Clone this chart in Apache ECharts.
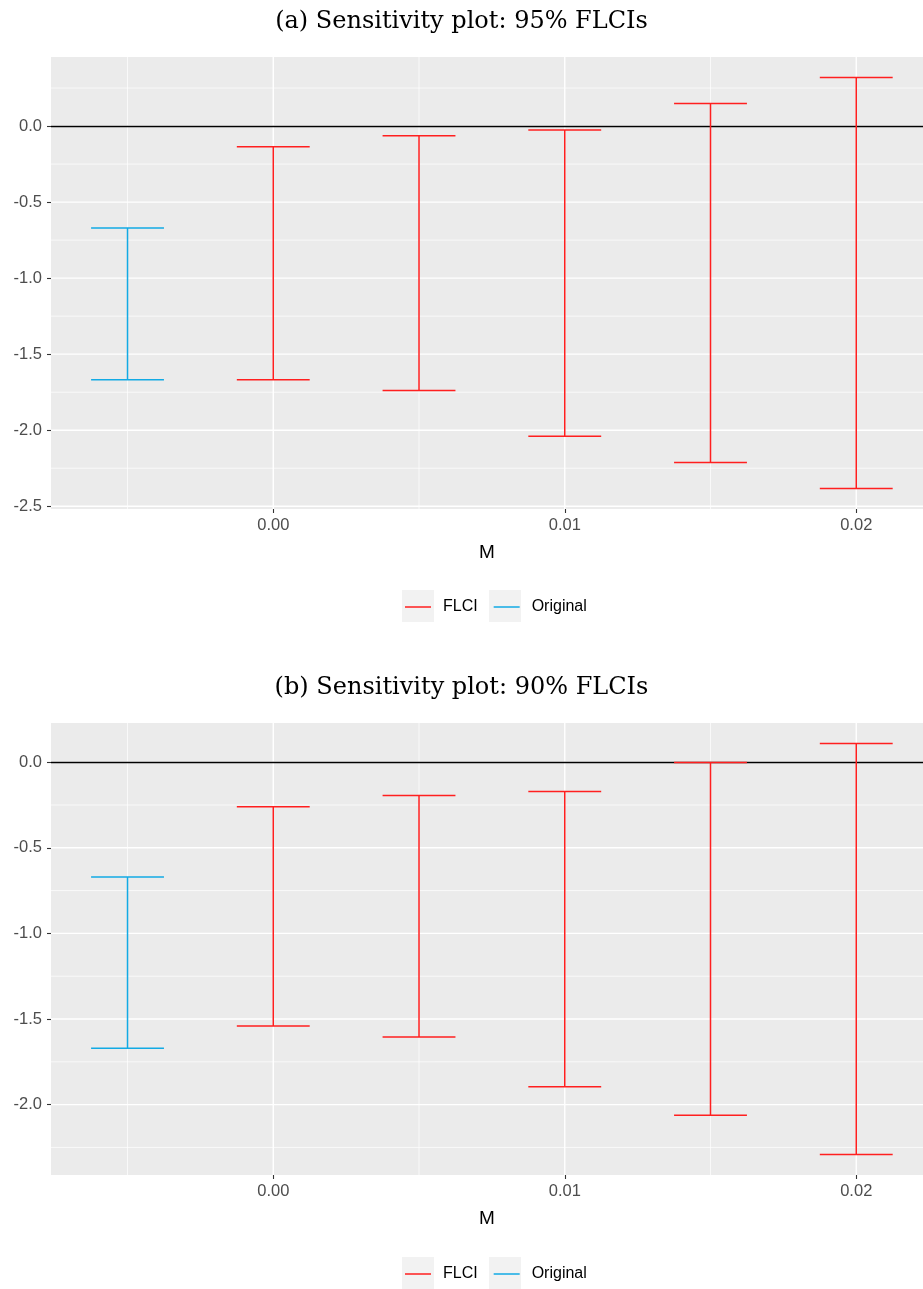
<!DOCTYPE html>
<html>
<head>
<meta charset="utf-8">
<script src="https://cdn.jsdelivr.net/npm/echarts@6/dist/echarts.min.js"></script>
<style>
html,body{margin:0;padding:0;background:#fff;}
#chart{width:923px;height:1289px;}
</style>
</head>
<body>
<div id="chart"></div>
<script>
// ---- data ----
const titles = ['(a) Sensitivity plot: 95% FLCIs', '(b) Sensitivity plot: 90% FLCIs'];
const seriesNames = ['FLCI', 'Original'];
const mValues = [0, 0.005, 0.01, 0.015, 0.02];
const originalPos = -0.005;
const xTickValues = [0, 0.01, 0.02];
const xTickLabels = ['0.00', '0.01', '0.02'];
const yTickLabelsA = ['-2.5', '-2.0', '-1.5', '-1.0', '-0.5', '0.0'];
const yTickLabelsB = ['-2.0', '-1.5', '-1.0', '-0.5', '0.0'];

// panel (a): 95% FLCIs
const flciLowerA = [-1.668, -1.739, -2.039, -2.212, -2.383];
const flciUpperA = [-0.136, -0.064, -0.026, 0.148, 0.319];
const originalLowerA = -1.668;
const originalUpperA = -0.670;

// panel (b): 90% FLCIs
const flciLowerB = [-1.541, -1.605, -1.895, -2.062, -2.291];
const flciUpperB = [-0.260, -0.194, -0.171, -0.002, 0.109];
const originalLowerB = -1.671;
const originalUpperB = -0.671;

// ---- styling constants ----
const RED = '#FF1F1F';
const BLUE = '#12AAE4';
const CAP = 0.0025;        // error bar cap width (data units)
const X_MIN = -0.007625;
const X_MAX = 0.02229;

function yRange(lows, ups) {
  const lo = Math.min(0, ...lows), hi = Math.max(0, ...ups);
  const pad = (hi - lo) * 0.05;
  return [lo - pad, hi + pad];
}
const rangeA = yRange(flciLowerA.concat([originalLowerA]), flciUpperA.concat([originalUpperA]));
const rangeB = yRange(flciLowerB.concat([originalLowerB]), flciUpperB.concat([originalUpperB]));

function renderErr(params, api) {
  const x = api.value(0), lo = api.value(1), hi = api.value(2);
  const pHi = api.coord([x, hi]);
  const pLo = api.coord([x, lo]);
  const half = api.size([CAP / 2, 0])[0];
  const style = { stroke: api.visual('color'), lineWidth: 1.5, fill: null };
  return {
    type: 'group',
    children: [
      { type: 'line', shape: { x1: pHi[0], y1: pHi[1], x2: pLo[0], y2: pLo[1] }, style: style },
      { type: 'line', shape: { x1: pHi[0] - half, y1: pHi[1], x2: pHi[0] + half, y2: pHi[1] }, style: style },
      { type: 'line', shape: { x1: pLo[0] - half, y1: pLo[1], x2: pLo[0] + half, y2: pLo[1] }, style: style }
    ]
  };
}

const labelFont = { color: '#4D4D4D', fontSize: 16.5, fontFamily: 'Liberation Sans, Arial, sans-serif' };

function makeX(gridIndex) {
  return {
    type: 'value', gridIndex: gridIndex, min: X_MIN, max: X_MAX, position: 'bottom',
    axisLine: { show: false, onZero: false },
    axisTick: { show: true, length: 4, lineStyle: { color: '#333333', width: 1.1 }, customValues: xTickValues },
    axisLabel: Object.assign({ margin: 8, customValues: xTickValues,
      formatter: function (v) { const i = xTickValues.findIndex(t => Math.abs(t - v) < 1e-9); return i >= 0 ? xTickLabels[i] : ''; } }, labelFont),
    splitLine: { show: false },
    name: 'M', nameLocation: 'middle', nameGap: 34,
    nameTextStyle: { color: '#000', fontSize: 19, fontFamily: 'Liberation Sans, Arial, sans-serif' }
  };
}

function makeY(gridIndex, range, labels) {
  const vals = labels.map(Number);
  return {
    type: 'value', gridIndex: gridIndex, min: range[0], max: range[1], position: 'left',
    axisLine: { show: false, onZero: false },
    axisTick: { show: true, length: 4, lineStyle: { color: '#333333', width: 1.1 }, customValues: vals },
    axisLabel: Object.assign({ margin: 9, customValues: vals,
      formatter: function (v) { const i = vals.findIndex(t => Math.abs(t - v) < 1e-9); return i >= 0 ? labels[i] : ''; } }, labelFont),
    splitLine: { show: false }
  };
}

// grid lines drawn via custom series using axis scales
function gridLineSeries(xi, yi, range) {
  const majX = xTickValues, minX = [-0.005, 0.005, 0.015];
  const majY = [], minY = [];
  for (let v = -3; v <= 1.0001; v += 0.25) {
    const r = Math.round(v * 100) / 100;
    if (r < range[0] || r > range[1]) continue;
    if (Math.abs(r * 2 - Math.round(r * 2)) < 1e-9) majY.push(r); else minY.push(r);
  }
  const data = [];
  majX.forEach(v => data.push(['x', v, 1]));
  minX.forEach(v => data.push(['x', v, 0]));
  majY.forEach(v => data.push(['y', v, 1]));
  minY.forEach(v => data.push(['y', v, 0]));
  return {
    type: 'custom', xAxisIndex: xi, yAxisIndex: yi, silent: true, z: 0,
    data: data,
    encode: { x: -1, y: -1 },
    renderItem: function (params, api) {
      const d = data[params.dataIndex];
      const w = d[2] ? 1.4 : 0.7;
      let shape;
      if (d[0] === 'x') {
        const p1 = api.coord([d[1], range[0]]), p2 = api.coord([d[1], range[1]]);
        shape = { x1: p1[0], y1: p1[1], x2: p2[0], y2: p2[1] };
      } else {
        const p1 = api.coord([X_MIN, d[1]]), p2 = api.coord([X_MAX, d[1]]);
        shape = { x1: p1[0], y1: p1[1], x2: p2[0], y2: p2[1] };
      }
      return { type: 'line', shape: shape, style: { stroke: '#FFFFFF', lineWidth: w }, z2: 0 };
    }
  };
}

function panelSeries(xi, yi, lows, ups, oLo, oHi, range) {
  const flciData = mValues.map((m, i) => [m, lows[i], ups[i]]);
  const origData = [[originalPos, oLo, oHi]];
  return [
    gridLineSeries(xi, yi, range),
    {
      name: 'FLCI', type: 'custom', xAxisIndex: xi, yAxisIndex: yi, z: 3,
      itemStyle: { color: RED }, data: flciData, encode: { x: 0, y: [1, 2] },
      renderItem: renderErr,
      markLine: {
        silent: true, symbol: 'none', label: { show: false },
        lineStyle: { color: '#000000', width: 1.3, type: 'solid' },
        data: [{ yAxis: 0 }], z: 2
      }
    },
    {
      name: 'Original', type: 'custom', xAxisIndex: xi, yAxisIndex: yi, z: 3,
      itemStyle: { color: BLUE }, data: origData, encode: { x: 0, y: [1, 2] },
      renderItem: renderErr
    }
  ];
}

const legendIcon = 'path://M0,0L26,0L26,1.5L0,1.5Z';
function makeLegend(top) {
  return {
    left: 405, top: top, orient: 'horizontal', padding: 0,
    itemWidth: 26, itemHeight: 1.5, itemGap: 16,
    data: [{ name: 'FLCI', icon: legendIcon }, { name: 'Original', icon: legendIcon }],
    textStyle: { color: '#000', fontSize: 16, fontFamily: 'Liberation Sans, Arial, sans-serif', padding: [0, 0, 0, 7] },
    selectedMode: false
  };
}

const titleStyle = { color: '#000', fontSize: 24, fontWeight: 'normal', fontFamily: 'DejaVu Serif, Liberation Serif, serif' };

const option = {
  animation: false,
  backgroundColor: '#FFFFFF',
  title: [
    { text: titles[0], left: 'center', top: 5, textStyle: titleStyle },
    { text: titles[1], left: 'center', top: 671, textStyle: titleStyle }
  ],
  grid: [
    { left: 51, top: 57, right: 0, height: 452, backgroundColor: '#EBEBEB', show: true, borderWidth: 0 },
    { left: 51, top: 723, right: 0, height: 452, backgroundColor: '#EBEBEB', show: true, borderWidth: 0 }
  ],
  xAxis: [makeX(0), makeX(1)],
  yAxis: [makeY(0, rangeA, yTickLabelsA), makeY(1, rangeB, yTickLabelsB)],
  legend: [makeLegend(599), makeLegend(1266)],
  graphic: [
    { type: 'rect', shape: { x: 402, y: 590, width: 32, height: 32 }, style: { fill: '#F2F2F2' }, z: -1 },
    { type: 'rect', shape: { x: 489, y: 590, width: 32, height: 32 }, style: { fill: '#F2F2F2' }, z: -1 },
    { type: 'rect', shape: { x: 402, y: 1257, width: 32, height: 32 }, style: { fill: '#F2F2F2' }, z: -1 },
    { type: 'rect', shape: { x: 489, y: 1257, width: 32, height: 32 }, style: { fill: '#F2F2F2' }, z: -1 }
  ],
  series: [].concat(
    panelSeries(0, 0, flciLowerA, flciUpperA, originalLowerA, originalUpperA, rangeA),
    panelSeries(1, 1, flciLowerB, flciUpperB, originalLowerB, originalUpperB, rangeB)
  )
};

const chart = echarts.init(document.getElementById('chart'), null, { renderer: 'canvas' });
chart.setOption(option);
</script>
</body>
</html>
